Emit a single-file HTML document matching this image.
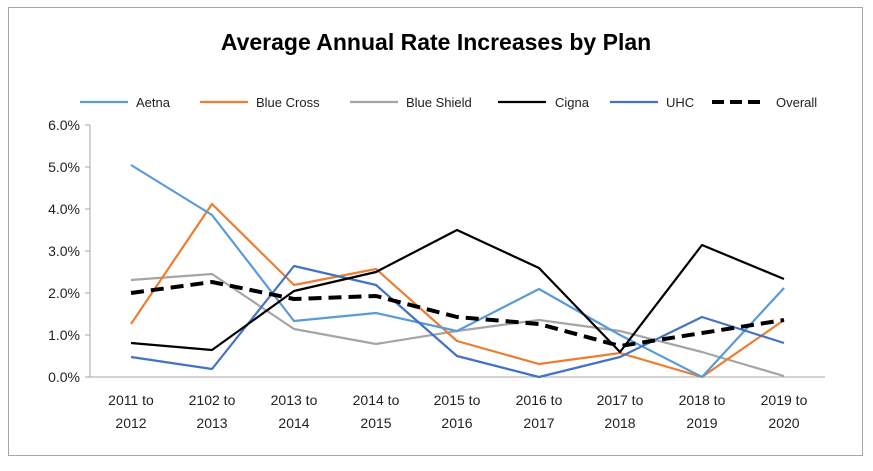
<!DOCTYPE html>
<html><head><meta charset="utf-8"><style>
body{margin:0;background:#fff;}
svg text{font-family:"Liberation Sans",sans-serif;fill:#222;}
</style></head><body>
<svg width="873" height="466" xmlns="http://www.w3.org/2000/svg">
<rect x="0" y="0" width="873" height="466" fill="#fff"/>
<rect x="8.5" y="7.5" width="854" height="448" fill="#fff" stroke="#a6a6a6"/>
<text x="436" y="50" text-anchor="middle" font-size="23" font-weight="bold" style="fill:#000">Average Annual Rate Increases by Plan</text>
<g font-size="13">
<line x1="80" y1="102" x2="128" y2="102" stroke="#5B9BD5" stroke-width="2.2"/><text x="136" y="107">Aetna</text>
<line x1="200" y1="102" x2="248" y2="102" stroke="#ED7D31" stroke-width="2.2"/><text x="256" y="107">Blue Cross</text>
<line x1="350" y1="102" x2="398" y2="102" stroke="#A5A5A5" stroke-width="2.2"/><text x="406" y="107">Blue Shield</text>
<line x1="498" y1="102" x2="546" y2="102" stroke="#000" stroke-width="2.2"/><text x="555" y="107">Cigna</text>
<line x1="610" y1="102" x2="658" y2="102" stroke="#4472C4" stroke-width="2.2"/><text x="666" y="107">UHC</text>
<line x1="712" y1="102" x2="760" y2="102" stroke="#000" stroke-width="4" stroke-dasharray="12,6"/><text x="776" y="107">Overall</text>
</g>
<g stroke="#a6a6a6" stroke-width="1">
<line x1="90" y1="125" x2="90" y2="377"/>
<line x1="90" y1="377" x2="825" y2="377"/>
<line x1="85" y1="125" x2="90" y2="125"/><line x1="85" y1="167" x2="90" y2="167"/><line x1="85" y1="209" x2="90" y2="209"/><line x1="85" y1="251" x2="90" y2="251"/><line x1="85" y1="293" x2="90" y2="293"/><line x1="85" y1="335" x2="90" y2="335"/><line x1="85" y1="377" x2="90" y2="377"/>
</g>
<g font-size="14" text-anchor="end">
<text x="80" y="130">6.0%</text><text x="80" y="172">5.0%</text><text x="80" y="214">4.0%</text><text x="80" y="256">3.0%</text><text x="80" y="298">2.0%</text><text x="80" y="340">1.0%</text><text x="80" y="382">0.0%</text>
</g>
<g font-size="14" text-anchor="middle">
<text x="131" y="405">2011 to</text><text x="131" y="428">2012</text>
<text x="212" y="405">2102 to</text><text x="212" y="428">2013</text>
<text x="294" y="405">2013 to</text><text x="294" y="428">2014</text>
<text x="376" y="405">2014 to</text><text x="376" y="428">2015</text>
<text x="457" y="405">2015 to</text><text x="457" y="428">2016</text>
<text x="539" y="405">2016 to</text><text x="539" y="428">2017</text>
<text x="620" y="405">2017 to</text><text x="620" y="428">2018</text>
<text x="702" y="405">2018 to</text><text x="702" y="428">2019</text>
<text x="784" y="405">2019 to</text><text x="784" y="428">2020</text>
</g>
<g fill="none" stroke-width="2.2" stroke-linejoin="round">
<polyline stroke="#A5A5A5" points="131,280 212,274 294,329 376,344 457,331 539,320 620,331 702,352 784,376"/>
<polyline stroke="#ED7D31" points="131,324 212,204 294,285 376,269 457,341 539,364 620,353 702,377 784,320"/>
<polyline stroke="#5B9BD5" points="131,165 212,215 294,321 376,313 457,331 539,289 620,335 702,377 784,288"/>
<polyline stroke="#4472C4" points="131,357 212,369 294,266 376,285 457,356 539,377 620,357 702,317 784,343"/>
<polyline stroke="#000" points="131,343 212,350 294,291 376,272 457,230 539,268 620,352 702,245 784,279"/>
<polyline stroke="#000" stroke-width="4" stroke-dasharray="13,7" points="131,293 212,282 294,299 376,296 457,317 539,324 620,346 702,333 784,320"/>
</g>
</svg>
</body></html>
